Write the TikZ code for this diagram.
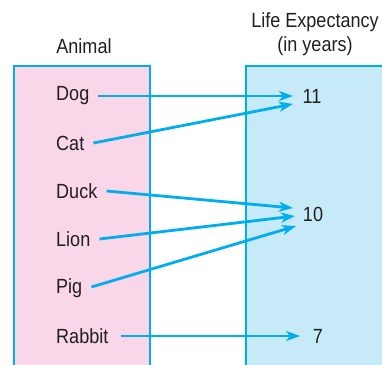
\documentclass[tikz,border=0pt]{standalone}
\usepackage{fontspec}
\setmainfont[FakeStretch=0.88]{Liberation Sans}
\usetikzlibrary{arrows.meta}
\definecolor{pinkfill}{RGB}{249,214,232}
\definecolor{bluefill}{RGB}{199,234,249}
\definecolor{cyanline}{RGB}{0,174,239}
\definecolor{txt}{RGB}{35,31,32}
\tikzset{
  lbl/.style={font=\fontsize{20.5}{22}\selectfont, text=txt, inner sep=0pt},
  conn/.style={draw=cyanline, line width=2.8pt, -{Stealth[length=14pt,width=10pt,inset=4pt]}},
  panel/.style={draw=cyanline, line width=1.6pt}
}
\begin{document}
\begin{tikzpicture}[x=1pt,y=-1pt]
\useasboundingbox (0,0) rectangle (382,364);
\begin{scope}
\clip (0,0) rectangle (382,364);
\fill[pinkfill] (14,66) rectangle (150,380);
\draw[panel] (14,380) -- (14,66) -- (150,66) -- (150,380);
\fill[bluefill] (246,66) rectangle (400,380);
\draw[panel] (246,380) -- (246,66) -- (400,66);
\end{scope}
\node[lbl] (hA) at (84,46) {Animal};
\node[lbl] (hL1) at (315,22) {Life Expectancy};
\node[lbl] (hL2) at (315,46) {(in years)};
\node[lbl, anchor=west] (dog) at (56,96) {Dog};
\node[lbl, anchor=west] (cat) at (56,143) {Cat};
\node[lbl, anchor=west] (duck) at (56,191) {Duck};
\node[lbl, anchor=west] (lion) at (56,239) {Lion};
\node[lbl, anchor=west] (pig) at (56,288) {Pig};
\node[lbl, anchor=west] (rabbit) at (56,336) {Rabbit};
\node[lbl] (n11) at (312,96) {11};
\node[lbl] (n10) at (313,214) {10};
\node[lbl] (n7) at (318,336) {7};
\coordinate (e11a) at (293,96);
\coordinate (e11b) at (293,104);
\coordinate (e10a) at (293,208);
\coordinate (e10b) at (295,216);
\coordinate (e10c) at (296,226);
\coordinate (e7) at (300,336);
\draw[conn] ([xshift=9pt]dog.east) -- (e11a);
\draw[conn] ([xshift=9pt]cat.east) -- (e11b);
\draw[conn] ([xshift=9pt]duck.east) -- (e10a);
\draw[conn] ([xshift=9pt]lion.east) -- (e10b);
\draw[conn] ([xshift=9pt,yshift=1pt]pig.east) -- (e10c);
\draw[conn] ([xshift=12pt]rabbit.east) -- (e7);
\end{tikzpicture}
\end{document}
